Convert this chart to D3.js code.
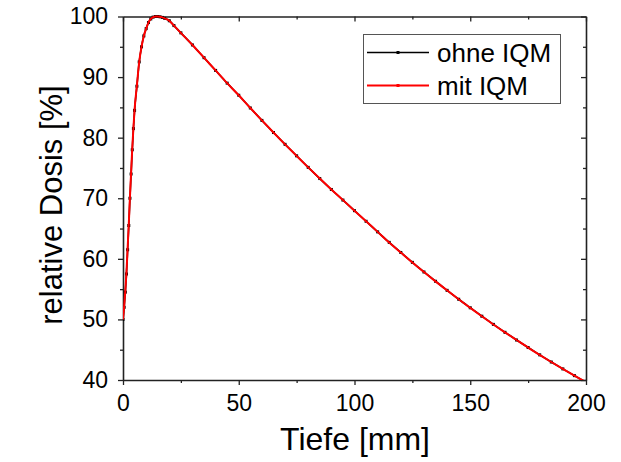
<!DOCTYPE html>
<html>
<head>
<meta charset="utf-8">
<script src="https://cdn.jsdelivr.net/npm/d3@7"></script>
<style>
  html, body { margin: 0; padding: 0; background: #fff; }
  svg { display: block; font-family: "Liberation Sans", Arial, sans-serif; }
</style>
</head>
<body>
<svg id="chart" width="621" height="462"></svg>
<script>
// Depth dose curve: depth in mm, relative dose in %
const depth = [0, 0.5, 1, 1.5, 2, 2.5, 3, 3.5, 4, 4.5, 5, 6, 7, 8, 9, 10, 11, 12, 13, 14, 15, 16, 17, 18, 20, 22,
  25, 30, 35, 40, 45, 50, 55, 60, 65, 70, 75, 80, 85, 90, 95, 100, 105, 110, 115, 120, 125, 130, 135, 140,
  145, 150, 155, 160, 165, 170, 175, 180, 185, 190, 195, 200];
const doseOhneIQM = [50, 52, 54.5, 57.5, 61.5, 65.5, 70, 74, 78, 81.5, 84.5, 88.5, 92.5, 95, 96.8, 98, 99, 99.6, 99.9, 100, 100, 99.95, 99.85, 99.7, 99.3, 98.5,
  97.3, 95.3, 93.2, 91.1, 89.0, 87.0, 84.9, 82.85, 80.85, 78.9, 77.0, 75.1, 73.25, 71.45, 69.7, 67.95, 66.2, 64.45, 62.72, 61.05,
  59.42, 57.83, 56.3, 54.8, 53.33, 51.92, 50.53, 49.18, 47.87, 46.6, 45.36, 44.15, 42.97, 41.83, 40.72, 39.63];
const doseMitIQM = [50, 52.2, 54.7, 57.8, 61.8, 65.8, 70.2, 74.2, 78.2, 81.6, 84.6, 88.6, 92.5, 95, 96.8, 98, 99, 99.6, 99.9, 100, 100, 99.95, 99.85, 99.7, 99.3, 98.5,
  97.3, 95.3, 93.2, 91.1, 89.0, 87.0, 84.9, 82.85, 80.85, 78.9, 77.0, 75.1, 73.25, 71.45, 69.7, 67.95, 66.2, 64.45, 62.7, 61.03,
  59.4, 57.82, 56.28, 54.79, 53.32, 51.9, 50.52, 49.17, 47.86, 46.6, 45.35, 44.15, 42.97, 41.83, 40.71, 39.63];

const xTicks = [0, 50, 100, 150, 200];
const yTicks = [40, 50, 60, 70, 80, 90, 100];
const seriesNames = ["ohne IQM", "mit IQM"];
const seriesColors = ["#000000", "#ff0000"];

const svg = d3.select("#chart");
const L = 123, R = 586, T = 16.5, B = 380;

const x = d3.scaleLinear().domain([0, 200]).range([L, R]);
const y = d3.scaleLinear().domain([40, 100]).range([B, T]);

const axisColor = "#222";

// clip to plot area
svg.append("defs").append("clipPath").attr("id", "plotClip")
  .append("rect").attr("x", L).attr("y", T - 2).attr("width", R - L).attr("height", B - T + 2);

// Axes: bottom/left with outward ticks, top/right with inward ticks
function styleAxis(g) {
  g.selectAll(".domain").attr("stroke", axisColor).attr("stroke-width", 1.6);
  g.selectAll(".tick line").attr("stroke", axisColor).attr("stroke-width", 1.3);
  g.selectAll(".tick text").attr("fill", "#000").style("font-size", "23px")
    .style("font-family", "'Liberation Sans', Arial, sans-serif");
}
function minorStyle(g) {
  g.select(".domain").remove();
  g.selectAll(".tick line").attr("stroke", axisColor).attr("stroke-width", 1.3);
}

const minorX = d3.range(25, 200, 50);
const minorY = d3.range(45, 100, 10);

// bottom
const gB = svg.append("g").attr("transform", `translate(0,${B})`)
  .call(d3.axisBottom(x).tickValues(xTicks).tickSize(5).tickSizeOuter(0).tickPadding(10));
styleAxis(gB);
svg.append("g").attr("transform", `translate(0,${B})`)
  .call(d3.axisBottom(x).tickValues(minorX).tickSize(3).tickSizeOuter(0).tickFormat(""))
  .call(minorStyle);

// top
const gT = svg.append("g").attr("transform", `translate(0,${T})`)
  .call(d3.axisBottom(x).tickValues(xTicks).tickSize(5).tickSizeOuter(0).tickFormat(""));
styleAxis(gT);
svg.append("g").attr("transform", `translate(0,${T})`)
  .call(d3.axisBottom(x).tickValues(minorX).tickSize(3).tickSizeOuter(0).tickFormat(""))
  .call(minorStyle);

// left
const gL = svg.append("g").attr("transform", `translate(${L},0)`)
  .call(d3.axisLeft(y).tickValues(yTicks).tickSize(5).tickSizeOuter(0).tickPadding(10));
styleAxis(gL);
svg.append("g").attr("transform", `translate(${L},0)`)
  .call(d3.axisLeft(y).tickValues(minorY).tickSize(3).tickSizeOuter(0).tickFormat(""))
  .call(minorStyle);

// right
const gR = svg.append("g").attr("transform", `translate(${R},0)`)
  .call(d3.axisLeft(y).tickValues(yTicks).tickSize(5).tickSizeOuter(0).tickFormat(""));
styleAxis(gR);
svg.append("g").attr("transform", `translate(${R},0)`)
  .call(d3.axisLeft(y).tickValues(minorY).tickSize(3).tickSizeOuter(0).tickFormat(""))
  .call(minorStyle);

// Axis titles
svg.append("text").attr("x", 355).attr("y", 450).attr("text-anchor", "middle")
  .style("font-size", "32px").text("Tiefe [mm]");
svg.append("text").attr("transform", "translate(62,205) rotate(-90)").attr("text-anchor", "middle")
  .style("font-size", "31px").text("relative Dosis [%]");

// Curves
const line = d3.line().x(d => x(d[0])).y(d => y(d[1])).curve(d3.curveMonotoneX);
const plot = svg.append("g").attr("clip-path", "url(#plotClip)");

const ohne = depth.map((d, i) => [d, doseOhneIQM[i]]);
const mit = depth.map((d, i) => [d, doseMitIQM[i]]);

plot.append("path").datum(ohne).attr("d", line).attr("fill", "none")
  .attr("stroke", seriesColors[0]).attr("stroke-width", 1.6);
plot.selectAll("rect.m0").data(ohne).join("rect").attr("class", "m0")
  .attr("x", d => x(d[0]) - 1.5).attr("y", d => y(d[1]) - 1.5)
  .attr("width", 3).attr("height", 3).attr("fill", seriesColors[0]);

plot.append("path").datum(mit).attr("d", line).attr("fill", "none")
  .attr("stroke", seriesColors[1]).attr("stroke-width", 2);

// Legend
const lg = svg.append("g");
lg.append("rect").attr("x", 363.5).attr("y", 34.5).attr("width", 197).attr("height", 69)
  .attr("fill", "#fff").attr("stroke", "#555").attr("stroke-width", 1);
seriesNames.forEach((name, i) => {
  const ly = 52.5 + i * 33;
  lg.append("line").attr("x1", 367).attr("x2", 429).attr("y1", ly).attr("y2", ly)
    .attr("stroke", seriesColors[i]).attr("stroke-width", i === 0 ? 1.6 : 2);
  lg.append("rect").attr("x", 396.5).attr("y", ly - 1.5).attr("width", 3).attr("height", 3)
    .attr("fill", seriesColors[i]);
  lg.append("text").attr("x", 437).attr("y", ly + 9).style("font-size", "26px").text(name);
});
</script>
</body>
</html>
